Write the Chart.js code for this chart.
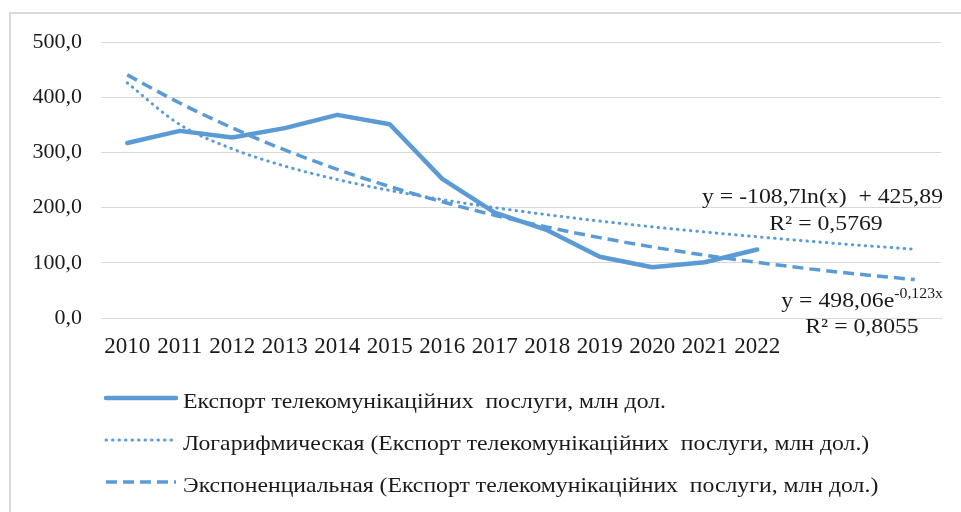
<!DOCTYPE html>
<html>
<head>
<meta charset="utf-8">
<script src="https://cdn.jsdelivr.net/npm/chart.js@4.4.1/dist/chart.umd.min.js"></script>
<style>
  html, body { margin: 0; padding: 0; background: #ffffff; }
  #wrap { width: 961px; height: 512px; }
</style>
</head>
<body>
<div id="wrap"><canvas id="c" width="961" height="512"></canvas></div>
<script>
// ---- data ----
const years = ['2010','2011','2012','2013','2014','2015','2016','2017','2018','2019','2020','2021','2022'];
const forecastLabels = ['', '', ''];           // 3 forecast periods of the trendlines (unlabelled)
const exportValues = [317, 339, 327, 344, 368, 351, 252, 191, 159, 111, 92, 101, 124];
// logarithmic trendline values (as drawn in the picture)
const logTrend = [425.9, 350.5, 306.5, 275.2, 250.9, 231.1, 214.4, 199.9, 187.1, 175.6, 165.2, 155.8, 147.1, 139.0, 131.5, 124.5];
// exponential trendline values (as drawn in the picture)
const expTrend = [440.4, 389.4, 344.4, 304.5, 269.3, 238.1, 210.5, 186.2, 164.6, 145.6, 128.7, 113.8, 100.7, 89.0, 78.7, 69.6];
const yTickLabels = ['0,0', '100,0', '200,0', '300,0', '400,0', '500,0'];

const seriesNames = [
  'Експорт телекомунікаційних  послуги, млн дол.',
  'Логарифмическая (Експорт телекомунікаційних  послуги, млн дол.)',
  'Экспоненциальная (Експорт телекомунікаційних  послуги, млн дол.)'
];

const BLUE = '#5B9BD5';
const GRID = '#d9d9d9';
const TEXT = '#1a1a1a';
const SERIF = '"Liberation Serif", "Times New Roman", serif';
const SX = 1.13; // horizontal stretch of the reference's text

const categories = years.concat(forecastLabels);

function stretchText(ctx, text, x, y, align) {
  const w = ctx.measureText(text).width * SX;
  let x0 = x;
  if (align === 'right') x0 = x - w;
  else if (align === 'center') x0 = x - w / 2;
  ctx.save();
  ctx.textAlign = 'left';
  ctx.translate(x0, y);
  ctx.scale(SX, 1);
  ctx.fillText(text, 0, 0);
  ctx.restore();
  return w;
}

const decorPlugin = {
  id: 'decor',
  beforeDraw(chart) {
    const ctx = chart.ctx;
    ctx.save();
    ctx.fillStyle = '#ffffff';
    ctx.fillRect(0, 0, chart.width, chart.height);
    ctx.strokeStyle = GRID;
    ctx.lineWidth = 2;
    ctx.beginPath();
    ctx.moveTo(10, 520);
    ctx.lineTo(10, 13);
    ctx.lineTo(961, 13);
    ctx.stroke();
    ctx.restore();
  },
  afterDraw(chart) {
    const ctx = chart.ctx;
    const ds = chart.data.datasets;
    ctx.save();
    ctx.textBaseline = 'alphabetic';
    // legend
    const rowsY = [398, 440, 482];
    ds.forEach((d, i) => {
      const y = rowsY[i];
      ctx.strokeStyle = d.borderColor;
      ctx.lineWidth = d.borderWidth;
      ctx.lineCap = d.borderCapStyle || 'butt';
      ctx.setLineDash(d.borderDash || []);
      ctx.beginPath();
      ctx.moveTo(106, y);
      ctx.lineTo(176, y);
      ctx.stroke();
      ctx.setLineDash([]);
      ctx.fillStyle = TEXT;
      ctx.font = '21px ' + SERIF;
      stretchText(ctx, d.label, 183, y + 10, 'left');
    });
    // trendline equations
    ctx.fillStyle = TEXT;
    ctx.font = '21px ' + SERIF;
    stretchText(ctx, 'y = -108,7ln(x)  + 425,89', 943, 203, 'right');
    stretchText(ctx, 'R² = 0,5769', 826, 230, 'center');
    // exponential equation with superscript
    const base = 'y = 498,06e';
    const sup = '-0,123x';
    ctx.font = '21px ' + SERIF;
    const wBase = ctx.measureText(base).width * SX;
    ctx.font = '14px ' + SERIF;
    const wSup = ctx.measureText(sup).width * SX;
    const xStart = 943 - wBase - wSup;
    ctx.font = '21px ' + SERIF;
    stretchText(ctx, base, xStart, 307, 'left');
    ctx.font = '14px ' + SERIF;
    stretchText(ctx, sup, xStart + wBase, 298, 'left');
    ctx.font = '21px ' + SERIF;
    stretchText(ctx, 'R² = 0,8055', 862, 333, 'center');
    ctx.restore();
  }
};

new Chart(document.getElementById('c'), {
  type: 'line',
  data: {
    labels: categories,
    datasets: [
      {
        label: seriesNames[0],
        data: exportValues,
        borderColor: BLUE,
        backgroundColor: BLUE,
        borderWidth: 4.5,
        borderCapStyle: 'round',
        borderJoinStyle: 'round',
        pointRadius: 0,
        tension: 0,
        order: 1
      },
      {
        label: seriesNames[1],
        data: logTrend,
        borderColor: BLUE,
        backgroundColor: BLUE,
        borderWidth: 3,
        borderDash: [0.5, 6],
        borderCapStyle: 'round',
        pointRadius: 0,
        cubicInterpolationMode: 'monotone',
        order: 2
      },
      {
        label: seriesNames[2],
        data: expTrend,
        borderColor: BLUE,
        backgroundColor: BLUE,
        borderWidth: 3.5,
        borderDash: [11, 6],
        borderCapStyle: 'butt',
        pointRadius: 0,
        cubicInterpolationMode: 'monotone',
        order: 3
      }
    ]
  },
  options: {
    responsive: false,
    animation: false,
    devicePixelRatio: 1,
    layout: { padding: { left: 0, right: 20, top: 42, bottom: 154 } },
    plugins: {
      legend: { display: false },
      tooltip: { enabled: false },
      title: { display: false }
    },
    scales: {
      x: {
        type: 'category',
        offset: true,
        grid: { display: false, drawTicks: false },
        border: { display: true, color: GRID, width: 1 },
        ticks: {
          autoSkip: false,
          maxRotation: 0,
          minRotation: 0,
          padding: 15,
          color: TEXT,
          font: { family: SERIF, size: 23 }
        },
        afterFit(scale) { scale.height = 40; }
      },
      y: {
        min: 0,
        max: 500,
        grid: { color: GRID, lineWidth: 1, drawTicks: false },
        border: { display: false },
        ticks: {
          stepSize: 100,
          padding: 19,
          color: TEXT,
          font: { family: SERIF, size: 22 },
          callback: (v, i) => yTickLabels[i]
        },
        afterFit(scale) { scale.width = 101; }
      }
    }
  },
  plugins: [decorPlugin]
});
</script>
</body>
</html>
